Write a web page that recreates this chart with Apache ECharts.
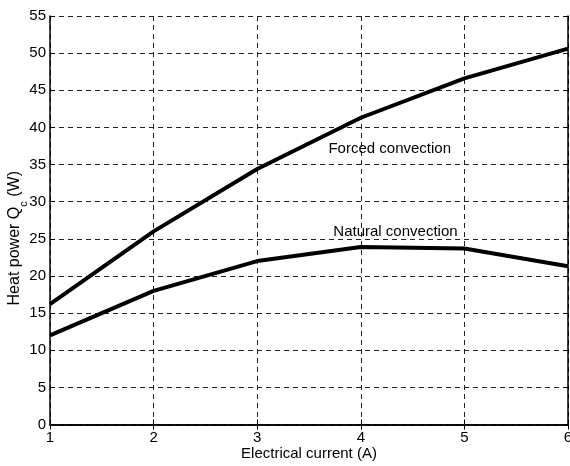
<!DOCTYPE html>
<html><head><meta charset="utf-8">
<script src="https://cdn.jsdelivr.net/npm/echarts@6/dist/echarts.min.js"></script>
<style>html,body{margin:0;padding:0;background:#fff}#c{width:570px;height:466px}</style>
</head><body><div id="c"></div>
<script>
const currents = [1, 2, 3, 4, 5, 6];
const forced = [16.2, 26.0, 34.4, 41.3, 46.6, 50.6];
const natural = [12.0, 18.0, 22.0, 23.9, 23.7, 21.3];
const xTicks = [1, 2, 3, 4, 5, 6];
const yTicks = [0, 5, 10, 15, 20, 25, 30, 35, 40, 45, 50, 55];
const labelForced = {text: 'Forced convection', x: 3.683, y: 37.1};
const labelNatural = {text: 'Natural convection', x: 3.73, y: 25.9};

const font = 'Liberation Sans, Arial, sans-serif';
const chart = echarts.init(document.getElementById('c'));
const gridLine = {show: true, lineStyle: {color: '#222', width: 1, type: [5, 4]}};
const axisLineStyle = {show: true, lineStyle: {color: '#000', width: 1.5}};
function pairs(ys) { return currents.map((x, i) => [x, ys[i]]); }
const tick = {show: true, inside: true, length: 5, lineStyle: {color: '#000'}};
chart.setOption({
  animation: false,
  grid: {left: 50, right: 2, top: 16, bottom: 41.5, containLabel: false, outerBoundsMode: 'none'},
  xAxis: [{
    type: 'value', min: 1, max: 6, interval: 1,
    name: 'Electrical current (A)', nameLocation: 'middle', nameGap: 22, nameMoveOverlap: false,
    nameTextStyle: {fontFamily: font, fontSize: 15, color: '#000'},
    axisLine: axisLineStyle, axisTick: tick,
    axisLabel: {fontFamily: font, fontSize: 15, color: '#000', margin: 6},
    splitLine: gridLine
  }, {
    type: 'value', min: 1, max: 6, interval: 1, position: 'top',
    axisLine: axisLineStyle, axisTick: tick,
    axisLabel: {show: false}, splitLine: {show: false}
  }],
  yAxis: [{
    type: 'value', min: 0, max: 55, interval: 5,
    name: '{a|Heat power Q}{s|c}{a| (W)}', nameLocation: 'middle', nameGap: 27.5, nameRotate: 90, nameMoveOverlap: false,
    nameTextStyle: {padding: [0, 36, 0, 0], rich: {
      a: {fontFamily: font, fontSize: 16, color: '#000'},
      s: {fontFamily: font, fontSize: 11, color: '#000', verticalAlign: 'bottom', padding: [0, 0, -7, 0]}
    }},
    axisLine: axisLineStyle, axisTick: tick,
    axisLabel: {fontFamily: font, fontSize: 15, color: '#000', margin: 4},
    splitLine: gridLine
  }, {
    type: 'value', min: 0, max: 55, interval: 5, position: 'right',
    axisLine: axisLineStyle, axisTick: tick,
    axisLabel: {show: false}, splitLine: {show: false}
  }],
  series: [{
    type: 'line', data: pairs(forced), showSymbol: false, symbol: 'none',
    lineStyle: {color: '#000', width: 4}, z: 5,
    markPoint: {symbol: 'circle', symbolSize: 1, itemStyle: {color: 'rgba(0,0,0,0)'}, data: [{coord: [labelForced.x, labelForced.y],
      label: {show: true, formatter: labelForced.text, position: 'right', distance: 0, fontFamily: font, fontSize: 15, color: '#000'}}]}
  }, {
    type: 'line', data: pairs(natural), showSymbol: false, symbol: 'none',
    lineStyle: {color: '#000', width: 4}, z: 5,
    markPoint: {symbol: 'circle', symbolSize: 1, itemStyle: {color: 'rgba(0,0,0,0)'}, data: [{coord: [labelNatural.x, labelNatural.y],
      label: {show: true, formatter: labelNatural.text, position: 'right', distance: 0, fontFamily: font, fontSize: 15, color: '#000'}}]}
  }]
});
</script></body></html>
